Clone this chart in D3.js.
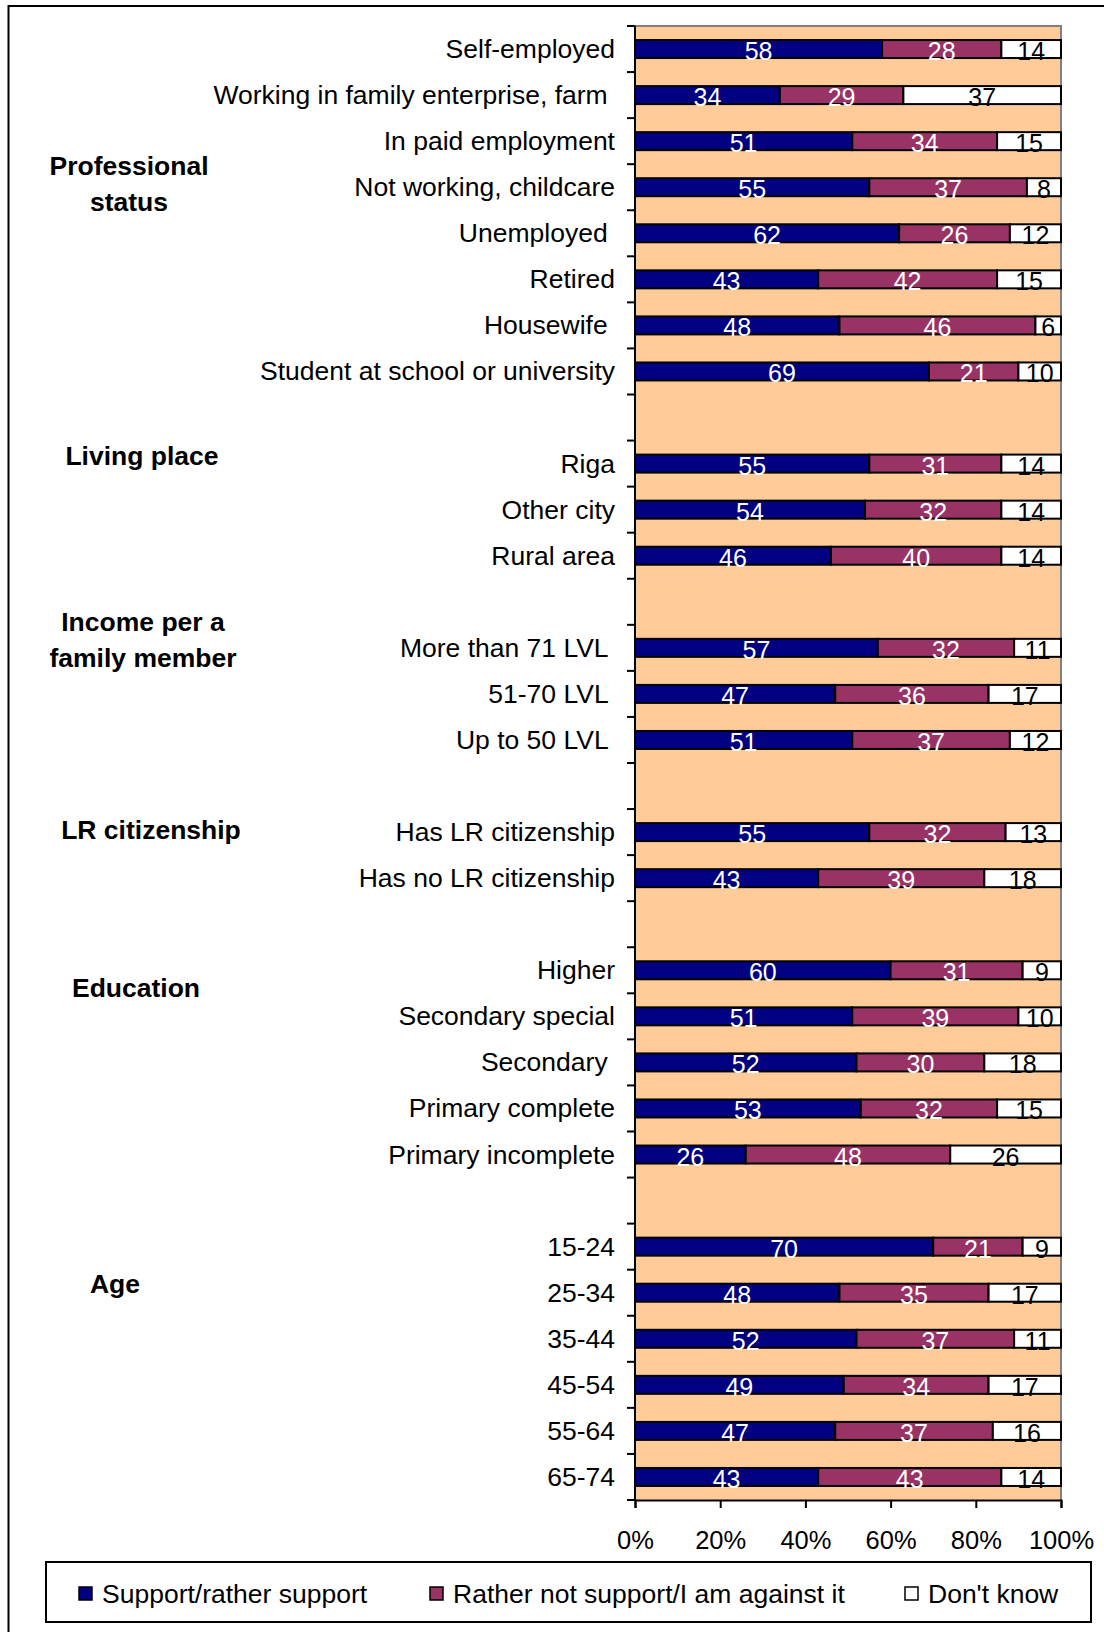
<!DOCTYPE html>
<html>
<head>
<meta charset="utf-8">
<script src="https://cdn.jsdelivr.net/npm/d3@7"></script>
<style>
  body { margin: 0; background: #fff; }
  svg { display: block; font-family: "Liberation Sans", Arial, sans-serif; }
  .cat-label { white-space: pre; }
</style>
</head>
<body>
<svg width="1104" height="1632"></svg>
<script>
// Row labels, top to bottom (null = empty spacer row)
const categories = [
  "Self-employed", "Working in family enterprise, farm ", "In paid employment",
  "Not working, childcare", "Unemployed ", "Retired", "Housewife ",
  "Student at school or university", null,
  "Riga", "Other city", "Rural area", null,
  "More than 71 LVL ", "51-70 LVL ", "Up to 50 LVL ", null,
  "Has LR citizenship", "Has no LR citizenship", null,
  "Higher", "Secondary special", "Secondary ", "Primary complete", "Primary incomplete", null,
  "15-24", "25-34", "35-44", "45-54", "55-64", "65-74"
];

const support  = [58, 34, 51, 55, 62, 43, 48, 69, null, 55, 54, 46, null, 57, 47, 51, null, 55, 43, null, 60, 51, 52, 53, 26, null, 70, 48, 52, 49, 47, 43];
const against  = [28, 29, 34, 37, 26, 42, 46, 21, null, 31, 32, 40, null, 32, 36, 37, null, 32, 39, null, 31, 39, 30, 32, 48, null, 21, 35, 37, 34, 37, 43];
const dontKnow = [14, 37, 15,  8, 12, 15,  6, 10, null, 14, 14, 14, null, 11, 17, 12, null, 13, 18, null,  9, 10, 18, 15, 26, null,  9, 17, 11, 17, 16, 14];

const seriesNames = ["Support/rather support", "Rather not support/I am against it", "Don't know"];
const seriesColors = ["#000080", "#993366", "#FFFFFF"];
const labelColors = ["#FFFFFF", "#FFFFFF", "#000000"];

const xTicks = [0, 20, 40, 60, 80, 100];

// Group captions on the left
const groupNames = [
  ["Professional", "status"],
  ["Living place"],
  ["Income per a", "family member"],
  ["LR citizenship"],
  ["Education"],
  ["Age"]
];
// layout of group captions (center x, first baseline y)
const groupPos = [[129, 175], [142, 465], [143, 631], [151, 839], [136, 997], [115, 1293]];

const svg = d3.select("svg");

// outer frame (runs off the right/bottom edge like the original)
svg.append("rect")
  .attr("x", 8.5).attr("y", 6)
  .attr("width", 1120).attr("height", 1650)
  .attr("fill", "none").attr("stroke", "#000").attr("stroke-width", 2);

const plot = { left: 635, right: 1061, top: 26, bottom: 1500 };

const keys = categories.map((c, i) => "row" + i);
const rows = categories.map((c, i) => ({
  key: keys[i], label: c,
  vals: [support[i], against[i], dontKnow[i]]
}));

const x = d3.scaleLinear().domain([0, 100]).range([plot.left, plot.right]);
const y = d3.scaleBand().domain(keys).range([plot.top, plot.bottom]).padding(0);

// plot background
svg.append("rect")
  .attr("x", plot.left).attr("y", plot.top)
  .attr("width", plot.right - plot.left).attr("height", plot.bottom - plot.top)
  .attr("fill", "#FFCC99");

// gray top and right border
svg.append("path")
  .attr("d", `M${plot.left},${plot.top}H${plot.right}V${plot.bottom}`)
  .attr("fill", "none").attr("stroke", "#808080").attr("stroke-width", 2);

const barH = 18;
const dataRows = rows.filter(r => r.label !== null);

// stacked bars
const barG = svg.append("g");
dataRows.forEach(r => {
  let acc = 0;
  const yTop = y(r.key) + (y.bandwidth() - barH) / 2;
  r.vals.forEach((v, s) => {
    barG.append("rect")
      .attr("x", x(acc)).attr("y", yTop)
      .attr("width", x(acc + v) - x(acc)).attr("height", barH)
      .attr("fill", seriesColors[s])
      .attr("stroke", "#000").attr("stroke-width", 2);
    barG.append("text")
      .attr("x", x(acc + v / 2))
      .attr("y", yTop + barH / 2 + 11)
      .attr("text-anchor", "middle")
      .attr("font-size", 25)
      .attr("fill", labelColors[s])
      .text(v);
    acc += v;
  });
});

// left axis: ticks at row boundaries
const boundaries = d3.range(keys.length + 1).map(i => plot.top + i * y.step());
svg.append("g").selectAll("line")
  .data(boundaries)
  .join("line")
  .attr("x1", plot.left - 8).attr("x2", plot.left)
  .attr("y1", d => d).attr("y2", d => d)
  .attr("stroke", "#000").attr("stroke-width", 2);
svg.append("line")
  .attr("x1", plot.left).attr("x2", plot.left)
  .attr("y1", plot.top).attr("y2", plot.bottom)
  .attr("stroke", "#000").attr("stroke-width", 2);

// category labels
svg.append("g").selectAll("text")
  .data(dataRows)
  .join("text")
  .attr("class", "cat-label")
  .attr("x", 615)
  .attr("y", d => y(d.key) + y.bandwidth() / 2 + 9)
  .attr("text-anchor", "end")
  .attr("font-size", 26.5)
  .attr("fill", "#000")
  .text(d => d.label);

// bottom axis
const xAxis = svg.append("g")
  .attr("transform", `translate(0,${plot.bottom})`)
  .call(d3.axisBottom(x).tickValues(xTicks).tickSize(8).tickPadding(23).tickFormat(d => d + "%"));
xAxis.select(".domain").attr("stroke", "#000").attr("stroke-width", 2);
xAxis.selectAll(".tick line").attr("stroke", "#000").attr("stroke-width", 2);
xAxis.selectAll(".tick text")
  .attr("font-size", 25.5)
  .attr("font-family", "Liberation Sans, Arial, sans-serif")
  .attr("fill", "#000");

// group captions
groupNames.forEach((lines, i) => {
  const t = svg.append("text")
    .attr("text-anchor", "middle")
    .attr("font-size", 26.5)
    .attr("font-weight", "bold")
    .attr("fill", "#000");
  lines.forEach((ln, j) => {
    t.append("tspan")
      .attr("x", groupPos[i][0])
      .attr("y", groupPos[i][1] + j * 36)
      .text(ln);
  });
});

// legend
svg.append("rect")
  .attr("x", 46).attr("y", 1562)
  .attr("width", 1045).attr("height", 60)
  .attr("fill", "#fff").attr("stroke", "#000").attr("stroke-width", 2);

const legendX = [79, 430, 905];
const legend = svg.append("g").selectAll("g")
  .data(seriesNames)
  .join("g")
  .attr("transform", (d, i) => `translate(${legendX[i]},1587)`);
legend.append("rect")
  .attr("width", 13).attr("height", 13)
  .attr("fill", (d, i) => seriesColors[i])
  .attr("stroke", "#000").attr("stroke-width", 1.5);
legend.append("text")
  .attr("x", 23).attr("y", 16)
  .attr("font-size", 26.5)
  .attr("fill", "#000")
  .text(d => d);
</script>
</body>
</html>
